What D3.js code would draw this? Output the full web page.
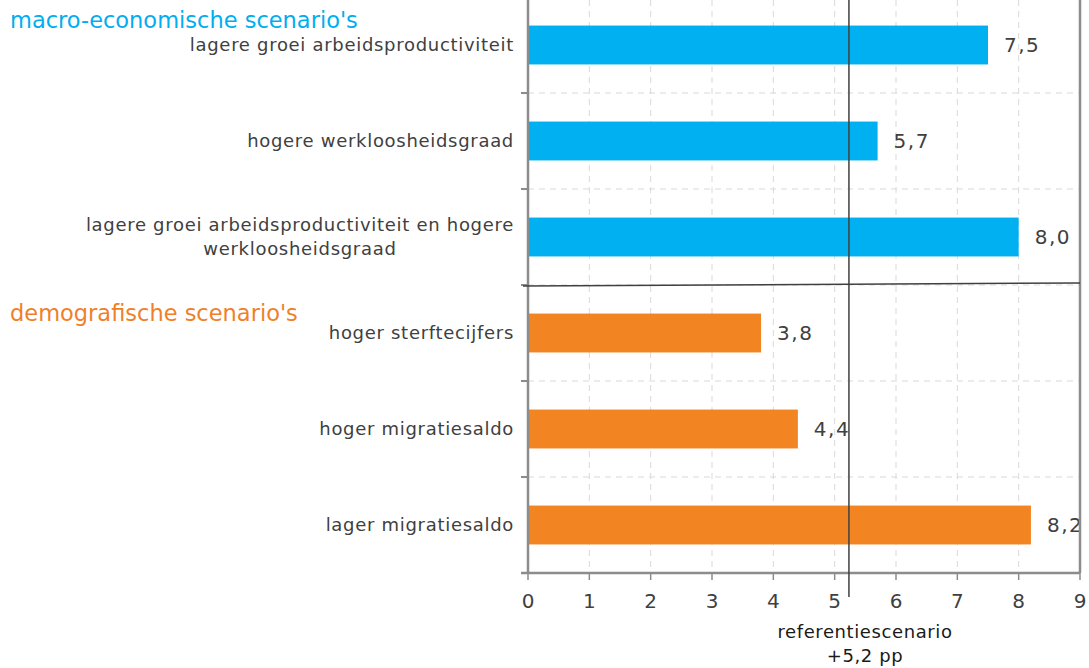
<!DOCTYPE html>
<html><head><meta charset="utf-8">
<script src="https://cdn.jsdelivr.net/npm/d3@7"></script>
<style>body{margin:0;background:#fff}svg{display:block}text{font-family:"DejaVu Sans",sans-serif}</style>
</head><body><svg id="c" width="1089" height="668"></svg>
<script>
const categories = ["lagere groei arbeidsproductiviteit","hogere werkloosheidsgraad","lagere groei arbeidsproductiviteit en hogere|werkloosheidsgraad","hoger sterftecijfers","hoger migratiesaldo","lager migratiesaldo"];
const values = [7.5, 5.7, 8.0, 3.8, 4.4, 8.2];
const groups = ["macro","macro","macro","demo","demo","demo"];
const groupTitles = ["macro-economische scenario's","demografische scenario's"];
const xTicks = [0,1,2,3,4,5,6,7,8,9];
const referenceValue = 5.2;
const referenceLabel = ["referentiescenario","+5,2 pp"];

const colors = {macro:"#00B0F0", demo:"#F28522"};
const svg = d3.select("#c");
const L = 528, R = 1080, T = -3, B = 573;
const x = d3.scaleLinear().domain([0,9]).range([L,R]);
const y = d3.scaleBand().domain(d3.range(categories.length)).range([T,B]).paddingInner(0.595).paddingOuter(0.2975);
const step = y.step();
const bound = i => T + i*step;

// grid
const g = svg.append("g");
xTicks.slice(1,-1).forEach(t=>{
  g.append("line").attr("x1",x(t)).attr("x2",x(t)).attr("y1",0).attr("y2",B).attr("stroke","#d9d9d9").attr("stroke-dasharray","6,5");
});
d3.range(1,categories.length).forEach(i=>{
  g.append("line").attr("x1",L).attr("x2",R).attr("y1",bound(i)).attr("y2",bound(i)).attr("stroke","#d9d9d9").attr("stroke-dasharray","6,5");
});

// bars
svg.selectAll("rect.bar").data(values).enter().append("rect")
  .attr("x",x(0)).attr("y",(d,i)=>y(i)).attr("width",d=>x(d)-x(0)).attr("height",y.bandwidth())
  .attr("fill",(d,i)=>colors[groups[i]]);

// value labels
svg.selectAll("text.val").data(values).enter().append("text")
  .attr("x",d=>x(d)+16).attr("y",(d,i)=>y(i)+y.bandwidth()/2+7)
  .attr("fill","#404040").attr("font-size",20).attr("letter-spacing",1.5)
  .text(d=>d.toFixed(1).replace(".",","));

// axes
svg.append("line").attr("x1",L).attr("x2",L).attr("y1",0).attr("y2",B).attr("stroke","#8c8c8c").attr("stroke-width",2.5);
svg.append("line").attr("x1",R).attr("x2",R).attr("y1",0).attr("y2",B).attr("stroke","#8c8c8c").attr("stroke-width",2.5);
svg.append("line").attr("x1",L-7).attr("x2",R).attr("y1",B).attr("y2",B).attr("stroke","#8c8c8c").attr("stroke-width",2.5);
d3.range(1,categories.length).forEach(i=>{
  svg.append("line").attr("x1",L-7).attr("x2",L).attr("y1",bound(i)).attr("y2",bound(i)).attr("stroke","#8c8c8c").attr("stroke-width",2);
});
xTicks.forEach(t=>{
  svg.append("line").attr("x1",x(t)).attr("x2",x(t)).attr("y1",B).attr("y2",B+7).attr("stroke","#8c8c8c").attr("stroke-width",1.5);
  svg.append("text").attr("x",x(t)).attr("y",B+35).attr("text-anchor","middle").attr("fill","#404040").attr("font-size",20).text(t);
});

// group separator
svg.append("line").attr("x1",L-5).attr("x2",R).attr("y1",bound(3)+1).attr("y2",bound(3)-2).attr("stroke","#404040").attr("stroke-width",1.5);

// reference line
svg.append("line").attr("x1",x(referenceValue)+2).attr("x2",x(referenceValue)+2).attr("y1",0).attr("y2",B+24).attr("stroke","#404040").attr("stroke-width",1.5);
referenceLabel.forEach((s,k)=>{
  svg.append("text").attr("x",865).attr("y",638+k*24).attr("text-anchor","middle").attr("fill","#1a1a1a").attr("font-size",18).attr("letter-spacing",0.6).text(s);
});

// category labels
let wrapFirst = null, wrapSecond = null;
categories.forEach((c,i)=>{
  const lines = c.split("|");
  const cy = y(i)+y.bandwidth()/2;
  lines.forEach((ln,k)=>{
    const t = svg.append("text").attr("x",L-14).attr("y",cy+6+(k-(lines.length-1)/2)*24)
      .attr("text-anchor","end").attr("letter-spacing",0.7)
      .attr("fill","#404040").attr("font-size",18).text(ln);
    if(lines.length>1){ if(k===0) wrapFirst=t; else wrapSecond=t; }
  });
});
if(wrapFirst && wrapSecond){
  const bb = wrapFirst.node().getBBox();
  wrapSecond.attr("text-anchor","middle").attr("x",bb.x+bb.width/2);
}

// group titles
svg.append("text").attr("x",10).attr("y",28).attr("fill","#00AEEF").attr("font-size",22.5).text(groupTitles[0]);
svg.append("text").attr("x",10).attr("y",321).attr("fill","#F07F2A").attr("font-size",22.5).text(groupTitles[1]);
</script></body></html>
